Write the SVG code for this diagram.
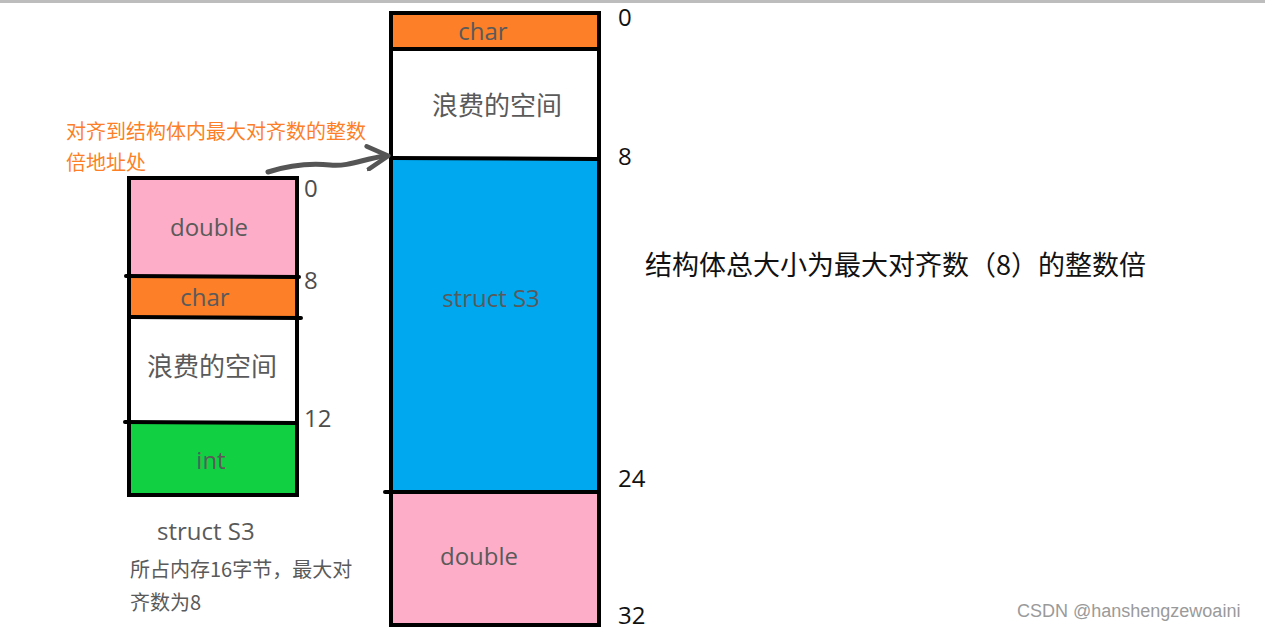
<svg xmlns="http://www.w3.org/2000/svg" width="1265" height="632" viewBox="0 0 1265 632">
<defs>
<style>
.lbl{font-family:"Open Sans","Noto Sans","Noto Sans CJK SC",sans-serif;fill:#5a5a5a;text-anchor:middle}
.cjk{font-family:"Noto Sans CJK SC","Noto Sans",sans-serif}
.num{font-family:"Open Sans","Noto Sans",sans-serif;font-size:24px}
.sep{stroke:#000;stroke-width:4;stroke-linecap:round}
.box{fill:none;stroke:#000;stroke-width:4}
</style>
<marker id="ah" viewBox="0 0 12 12" refX="9" refY="6" markerWidth="5.5" markerHeight="5.5" orient="auto" markerUnits="strokeWidth">
<path d="M1,1 L10,6 L1,11" fill="none" stroke="#555" stroke-width="2" stroke-linecap="round" stroke-linejoin="round"/>
</marker>
</defs>
<rect width="1265" height="632" fill="#fff"/>
<rect x="0" y="0" width="1265" height="3" fill="#bdbdbd"/>

<g id="left-struct">
<rect x="130" y="179" width="166" height="97" fill="#fdadc8"/>
<rect x="130" y="278" width="166" height="38" fill="#fd7f28"/>
<rect x="130" y="319" width="166" height="102" fill="#fff"/>
<rect x="130" y="424" width="166" height="70" fill="#11d142"/>
<rect class="box" x="129" y="178" width="168" height="317"/>
<line class="sep" x1="126" y1="276" x2="299" y2="277"/>
<line class="sep" x1="130" y1="317" x2="301" y2="318"/>
<line class="sep" x1="125" y1="422" x2="297" y2="423"/>
<text class="lbl" x="209" y="236" font-size="24">double</text>
<text class="lbl" x="205" y="306" font-size="24">char</text>
<text class="lbl cjk" x="212" y="376" font-size="26">浪费的空间</text>
<text class="lbl" x="211" y="469" font-size="24">int</text>
<text class="num" x="304" y="197" fill="#4d4d4d">0</text>
<text class="num" x="304" y="289" fill="#4d4d4d">8</text>
<text class="num" x="304" y="427" fill="#4d4d4d">12</text>
</g>

<g id="right-struct">
<rect x="392" y="14" width="206" height="34" fill="#fd7f28"/>
<rect x="392" y="51" width="206" height="106" fill="#fff"/>
<rect x="392" y="160" width="206" height="331" fill="#00a8f0"/>
<rect x="392" y="494" width="206" height="130" fill="#fdadc8"/>
<rect class="box" x="391" y="13" width="208" height="612"/>
<line class="sep" x1="391" y1="49" x2="598" y2="49"/>
<line class="sep" x1="391" y1="158" x2="597" y2="159"/>
<line class="sep" x1="385" y1="492" x2="597" y2="492"/>
<text class="lbl" x="483" y="40" font-size="24">char</text>
<text class="lbl cjk" x="497" y="115" font-size="26">浪费的空间</text>
<text class="lbl" x="491" y="307" font-size="24">struct S3</text>
<text class="lbl" x="479" y="565" font-size="24">double</text>
<text class="num" x="618" y="26" fill="#111">0</text>
<text class="num" x="618" y="165" fill="#111">8</text>
<text class="num" x="618" y="487" fill="#111">24</text>
<text class="num" x="618" y="624" fill="#111">32</text>
</g>

<g id="connectors">
<path d="M268,172 C290,165 310,163 330,165 C350,167 365,158 386,156" fill="none" stroke="#555" stroke-width="5" stroke-linecap="round" marker-end="url(#ah)"/>
</g>

<g id="annotations">
<text class="cjk" x="66" y="139" font-size="20" fill="#fd7f28">对齐到结构体内最大对齐数的整数</text>
<text class="cjk" x="66" y="170" font-size="20" fill="#fd7f28">倍地址处</text>
<text class="cjk" x="645" y="275" font-size="27" fill="#111">结构体总大小为最大对齐数（8）的整数倍</text>
<text x="157" y="540" font-size="24" fill="#5a5a5a" font-family="Open Sans, Noto Sans, sans-serif">struct S3</text>
<text class="cjk" x="130" y="577" font-size="20" fill="#5a5a5a">所占内存16字节，最大对</text>
<text class="cjk" x="130" y="610" font-size="20" fill="#5a5a5a">齐数为8</text>
<text x="1017" y="617" font-size="18" fill="#9a9a9a" font-family="Liberation Sans, Arial, sans-serif">CSDN @hanshengzewoaini</text>
</g>
</svg>
